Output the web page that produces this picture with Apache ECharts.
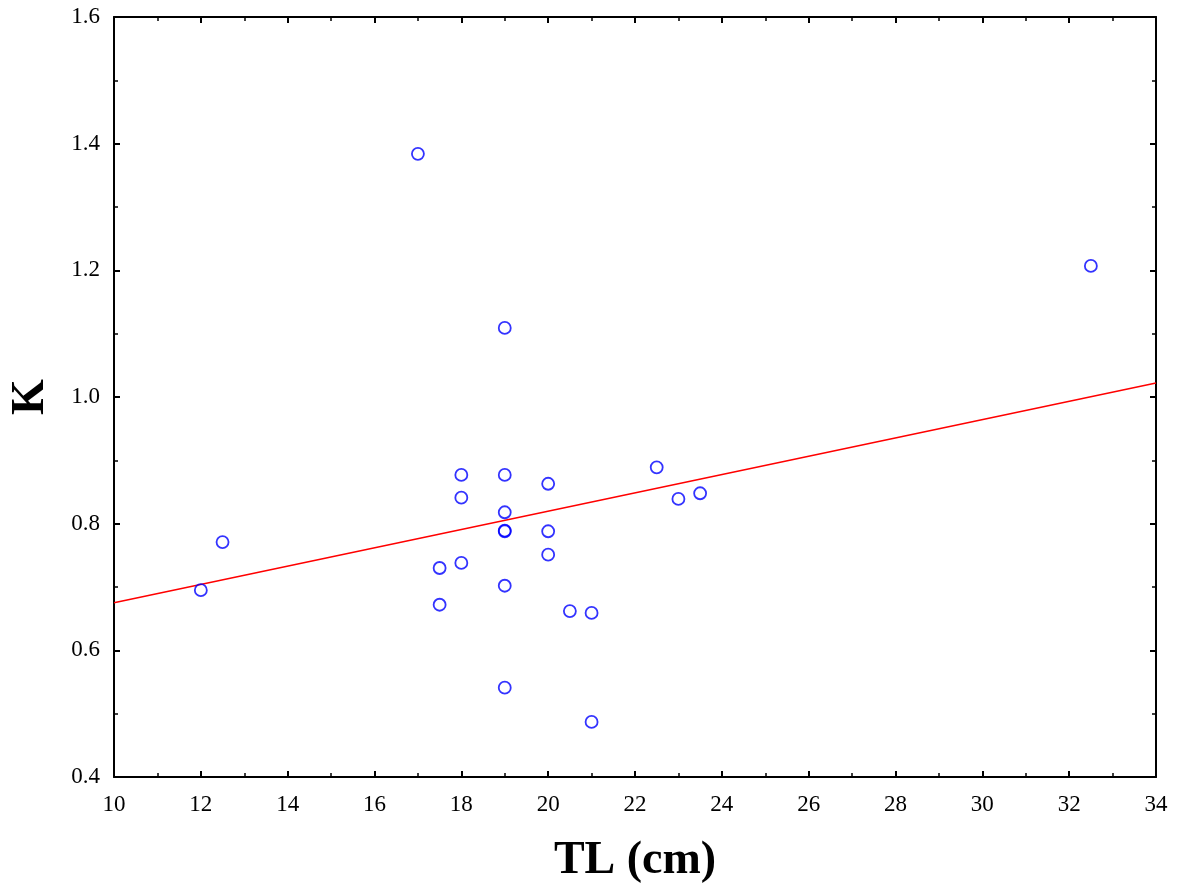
<!DOCTYPE html>
<html>
<head>
<meta charset="utf-8">
<script src="https://cdn.jsdelivr.net/npm/echarts@6/dist/echarts.min.js"></script>
<style>
  html, body { margin: 0; padding: 0; background: #fff; }
  #chart { width: 1180px; height: 884px; }
</style>
</head>
<body>
<div id="chart"></div>
<script>
// TL (cm) vs K
const tl = [12, 12.5, 17, 17.5, 17.5, 18, 18, 18, 19, 19, 19, 19, 19, 19, 19, 20, 20, 20, 20.5, 21, 21, 22.5, 23, 23.5, 32.5];
const k  = [0.695, 0.771, 1.384, 0.730, 0.672, 0.877, 0.841, 0.738, 1.109, 0.877, 0.818, 0.788, 0.789, 0.702, 0.541, 0.863, 0.788, 0.751, 0.662, 0.659, 0.487, 0.889, 0.839, 0.848, 1.207];
// regression line ends
const fitX = [10, 34];
const fitY = [0.675, 1.022];

const font = 'Liberation Serif, Times New Roman, serif';

let myChart = echarts.init(document.getElementById('chart'));

const baseX = {
  type: 'value', min: 10, max: 34, interval: 2,
  axisLine: { show: true, onZero: false, lineStyle: { color: '#000', width: 2 } },
  axisTick: { show: true, inside: true, length: 6, lineStyle: { color: '#000', width: 2 } },
  minorTick: { show: true, splitNumber: 2, length: 4, lineStyle: { color: '#000', width: 1.5 } },
  splitLine: { show: false },
};
const baseY = {
  type: 'value', min: 0.4, max: 1.6, interval: 0.2,
  axisLine: { show: true, onZero: false, lineStyle: { color: '#000', width: 2 } },
  axisTick: { show: true, inside: true, length: 6, lineStyle: { color: '#000', width: 2 } },
  minorTick: { show: true, splitNumber: 2, length: 4, lineStyle: { color: '#000', width: 1.5 } },
  splitLine: { show: false },
};

myChart.setOption({
  animation: false,
  grid: { left: 114, top: 17, right: 24, bottom: 107, containLabel: false, outerBoundsMode: 'none' },
  xAxis: [
    Object.assign({}, baseX, {
      position: 'bottom',
      name: 'TL (cm)', nameLocation: 'middle', nameGap: 61,
      nameTextStyle: { fontFamily: font, fontSize: 46, fontWeight: 'bold', color: '#000' },
      axisLabel: { fontFamily: font, fontSize: 23, color: '#000', margin: 16 }
    }),
    Object.assign({}, baseX, { position: 'top', axisLabel: { show: false } })
  ],
  yAxis: [
    Object.assign({}, baseY, {
      position: 'left',
      name: 'K', nameLocation: 'middle', nameGap: 60,
      nameTextStyle: { fontFamily: font, fontSize: 46, fontWeight: 'bold', color: '#000' },
      axisLabel: { fontFamily: font, fontSize: 23, color: '#000', margin: 14,
        formatter: v => v.toFixed(1) }
    }),
    Object.assign({}, baseY, { position: 'right', axisLabel: { show: false } })
  ],
  series: [
    {
      type: 'line',
      data: fitX.map((x, i) => [x, fitY[i]]),
      symbol: 'none',
      lineStyle: { color: '#ff0000', width: 1.5 },
      z: 2
    },
    {
      type: 'scatter',
      data: tl.map((x, i) => [x, k[i]]),
      symbol: 'circle',
      symbolSize: 12,
      itemStyle: { color: 'rgba(0,0,0,0)', borderColor: '#0000ff', borderWidth: 1.8 },
      z: 3
    }
  ]
});
</script>
</body>
</html>
